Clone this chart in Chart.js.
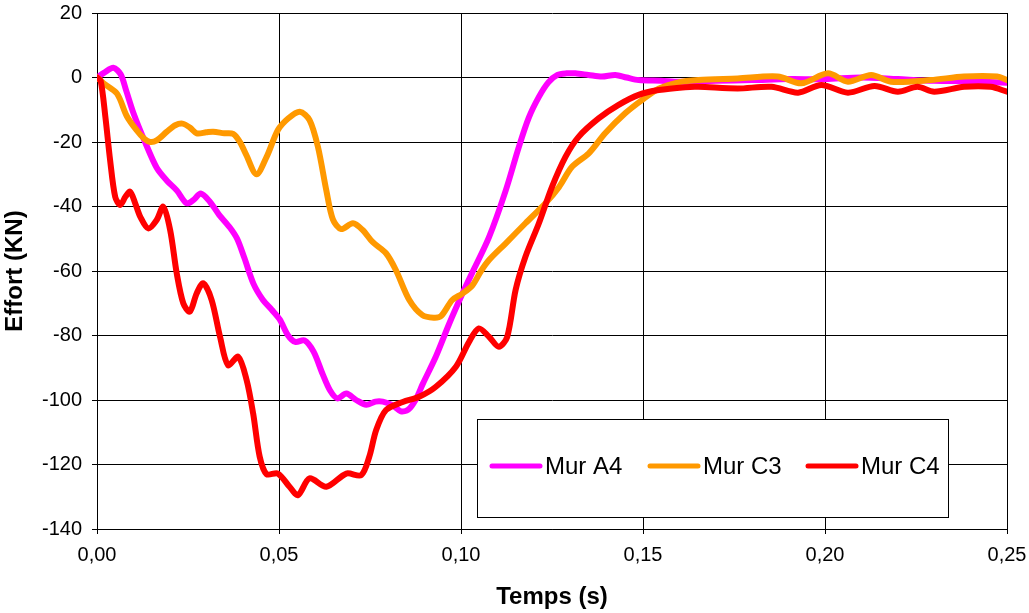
<!DOCTYPE html>
<html>
<head>
<meta charset="utf-8">
<script src="https://cdn.jsdelivr.net/npm/chart.js@4"></script>
<style>
  html, body { margin: 0; padding: 0; background: #fff; }
  #wrap { width: 1029px; height: 613px; }
</style>
</head>
<body>
<div id="wrap"><canvas id="effort"></canvas></div>
<script>
// values: time (s) and effort (kN)
const tA4 = [0, 0.002, 0.0045, 0.0065, 0.008, 0.010, 0.0132, 0.0164, 0.0192, 0.0219, 0.0246, 0.0265, 0.0285, 0.031, 0.0335, 0.0365, 0.0385, 0.0405, 0.043, 0.0456, 0.048, 0.0502, 0.0525, 0.0545, 0.057, 0.0595, 0.062, 0.064, 0.066, 0.0685, 0.0712, 0.074, 0.0765, 0.0785, 0.081, 0.0835, 0.0855, 0.0875, 0.0895, 0.0931, 0.0967, 0.1004, 0.1031, 0.1077, 0.1123, 0.1159, 0.1186, 0.1214, 0.124, 0.1265, 0.129, 0.1314, 0.135, 0.1387, 0.1424, 0.1455, 0.1488, 0.155, 0.16, 0.17, 0.18, 0.19, 0.20, 0.21, 0.22, 0.23, 0.24, 0.25];
const vA4 = [0, 1.5, 3, 1, -4, -11, -20, -28, -32, -35, -39, -38, -36, -38.5, -42.5, -46.5, -50, -56, -64, -69, -72, -75, -80, -82, -81.5, -85, -92, -97, -99.5, -98, -100, -101.5, -100.5, -100.5, -101.5, -103.5, -103, -100, -95, -86.5, -76.5, -67, -60.5, -49.5, -35, -21.5, -12.5, -6, -1.5, 0.8, 1.3, 1.3, 0.8, 0.3, 0.8, 0, -0.8, -1, -1.3, -1, -0.8, -0.5, -0.5, 0, -0.5, -1, -1.2, -1.6];

const tC3 = [0, 0.0018, 0.0055, 0.0082, 0.011, 0.013, 0.0146, 0.0164, 0.0192, 0.0215, 0.0235, 0.0255, 0.0274, 0.03, 0.0319, 0.035, 0.0374, 0.0392, 0.041, 0.0438, 0.0466, 0.0497, 0.0525, 0.0557, 0.0584, 0.0607, 0.063, 0.0648, 0.0671, 0.0703, 0.073, 0.0757, 0.0794, 0.0821, 0.0858, 0.0894, 0.0925, 0.0945, 0.0976, 0.1004, 0.1031, 0.1055, 0.1077, 0.1123, 0.1177, 0.1232, 0.1269, 0.1305, 0.1351, 0.1396, 0.1451, 0.1497, 0.1543, 0.1597, 0.1652, 0.176, 0.187, 0.1935, 0.2008, 0.2063, 0.2127, 0.2181, 0.229, 0.2382, 0.2473, 0.25];
const vC3 = [0, -1.8, -5, -12, -16.5, -19, -20, -19.5, -16.8, -14.8, -14.3, -15.5, -17.3, -17, -16.8, -17.3, -17.5, -19.9, -24, -30, -24.6, -16.3, -12.7, -10.6, -13.2, -21.5, -35, -44, -47, -45.2, -47.3, -51, -54.5, -59.7, -69, -73.7, -74.5, -74, -69, -67, -64.5, -60, -56.6, -51.4, -45.2, -39, -34, -27.7, -23.5, -17.3, -11.1, -7, -3.5, -1.5, -0.8, -0.3, 0.3, -1.8, 1.3, -1.3, 0.8, -1.3, -0.8, 0.3, 0.3, -0.8];

const tC4 = [0, 0.001, 0.0023, 0.0036, 0.005, 0.0064, 0.0078, 0.0091, 0.0105, 0.0119, 0.0141, 0.0164, 0.0182, 0.0201, 0.0219, 0.0237, 0.0255, 0.0274, 0.0292, 0.0315, 0.0338, 0.036, 0.0388, 0.0411, 0.0429, 0.0447, 0.0466, 0.0497, 0.0529, 0.0552, 0.0584, 0.063, 0.0685, 0.0726, 0.0748, 0.0767, 0.0794, 0.084, 0.0885, 0.0931, 0.0986, 0.1022, 0.1049, 0.1077, 0.1104, 0.1127, 0.115, 0.1177, 0.1214, 0.125, 0.1287, 0.1323, 0.1378, 0.1433, 0.1488, 0.1543, 0.1616, 0.1652, 0.176, 0.1853, 0.1926, 0.199, 0.2063, 0.2136, 0.22, 0.2254, 0.23, 0.2382, 0.2455, 0.25];
const vC4 = [0, -1, -12.2, -25.6, -37, -39.5, -37, -35.4, -39, -43.2, -46.8, -44.2, -40.1, -47.3, -60.7, -70, -72.6, -66.9, -63.8, -69, -80.4, -89.2, -86.6, -93.8, -104.2, -117.6, -123, -122.8, -126.9, -129.5, -124.3, -126.9, -122.8, -123.3, -117.6, -109.3, -103.1, -100.6, -99, -95.9, -89.7, -82, -77.8, -80.4, -83.5, -80.4, -65.9, -55.6, -45.2, -33.9, -24.6, -18.4, -12.7, -8.5, -5.4, -3.9, -3, -2.9, -3.4, -2.9, -4.7, -2.3, -4.7, -2.6, -4.4, -2.9, -4.4, -2.9, -2.9, -4.4];

const seriesNames = ['Mur A4', 'Mur C3', 'Mur C4'];
const seriesColors = ['#FF00FF', '#FF9900', '#FF0000'];

const FONT = '"Liberation Sans", Arial, sans-serif';
const pairs = (ts, vs) => ts.map((t, i) => ({ x: t, y: vs[i] }));

// legend box sitting inside the plot, drawn by hand
const boxLegend = {
  id: 'boxLegend',
  afterDraw(chart) {
    const ctx = chart.ctx;
    const bx = 477, by = 419, bw = 471, bh = 98;
    ctx.save();
    ctx.fillStyle = '#fff';
    ctx.fillRect(bx, by, bw, bh);
    ctx.strokeStyle = '#000';
    ctx.lineWidth = 1;
    ctx.strokeRect(bx + 0.5, by + 0.5, bw, bh);
    ctx.font = '24px ' + FONT;
    ctx.textBaseline = 'middle';
    const cy = by + 47;
    [492, 650, 808].forEach((lx, i) => {
      ctx.strokeStyle = seriesColors[i];
      ctx.lineWidth = 5;
      ctx.lineCap = 'round';
      ctx.beginPath();
      ctx.moveTo(lx, cy);
      ctx.lineTo(lx + 48, cy);
      ctx.stroke();
      ctx.fillStyle = '#000';
      ctx.fillText(seriesNames[i], lx + 53, cy + 1);
    });
    ctx.restore();
  }
};

new Chart(document.getElementById('effort'), {
  type: 'line',
  data: {
    datasets: [
      { label: seriesNames[0], data: pairs(tA4, vA4), borderColor: seriesColors[0], order: 3 },
      { label: seriesNames[1], data: pairs(tC3, vC3), borderColor: seriesColors[1], order: 2 },
      { label: seriesNames[2], data: pairs(tC4, vC4), borderColor: seriesColors[2], order: 1 }
    ]
  },
  options: {
    responsive: true,
    maintainAspectRatio: false,
    animation: false,
    layout: { padding: { top: 13, right: 22, left: 0, bottom: 0 } },
    elements: {
      point: { radius: 0 },
      line: { borderWidth: 6, tension: 0.3, borderCapStyle: 'round', borderJoinStyle: 'round' }
    },
    plugins: {
      legend: { display: false },
      tooltip: { enabled: false }
    },
    scales: {
      x: {
        type: 'linear',
        min: 0,
        max: 0.25,
        afterFit(scale) {
          scale.height = 84;
          scale.paddingLeft = 0;
          scale.paddingRight = 0;
        },
        grid: { color: '#000', lineWidth: 1, tickLength: 5 },
        border: { color: '#000' },
        ticks: {
          stepSize: 0.05,
          color: '#000',
          padding: 9,
          font: { family: FONT, size: 20 },
          callback: v => v.toFixed(2).replace('.', ',')
        },
        title: {
          display: true,
          text: 'Temps (s)',
          color: '#000',
          padding: { top: 0, bottom: 1 },
          font: { family: FONT, size: 24, weight: 'bold' }
        }
      },
      y: {
        min: -140,
        max: 20,
        afterFit(scale) {
          scale.width = 97;
          scale.paddingTop = 0;
          scale.paddingBottom = 0;
        },
        grid: { color: '#000', lineWidth: 1, tickLength: 5 },
        border: { color: '#000' },
        ticks: {
          stepSize: 20,
          color: '#000',
          padding: 10,
          font: { family: FONT, size: 20 }
        },
        title: {
          display: true,
          text: 'Effort (KN)',
          color: '#000',
          padding: { top: 1, bottom: 0 },
          font: { family: FONT, size: 24, weight: 'bold' }
        }
      }
    }
  },
  plugins: [boxLegend]
});
</script>
</body>
</html>
